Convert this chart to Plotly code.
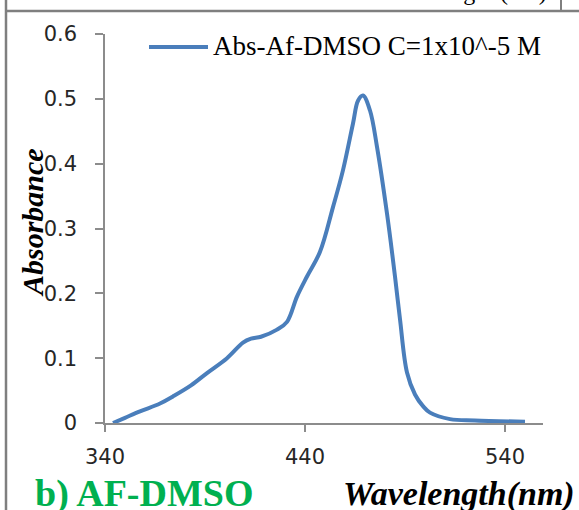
import plotly.graph_objects as go

# UV-Vis absorption spectrum of Af in DMSO (C = 1x10^-5 M)
wavelength_nm = [344, 350, 357.5, 367.5, 374, 383, 391, 401, 409, 413, 418, 426, 431,
                 436, 441, 447.5, 454, 459, 464, 466.5, 469, 472.5, 476, 481, 485,
                 487.5, 491, 495, 499, 502.5, 512.5, 525, 550]
absorbance = [0.0, 0.008, 0.018, 0.030, 0.041, 0.058, 0.077, 0.100, 0.124, 0.130, 0.133,
              0.144, 0.156, 0.195, 0.226, 0.264, 0.333, 0.390, 0.462, 0.497, 0.505,
              0.482, 0.426, 0.323, 0.226, 0.160, 0.078, 0.044, 0.026, 0.016, 0.006,
              0.004, 0.002]

x_ticks = [340, 440, 540]
y_ticks = [0, 0.1, 0.2, 0.3, 0.4, 0.5, 0.6]
series_name = "Abs-Af-DMSO C=1x10^-5 M"

W, H = 579, 510
M_L, M_R, M_T, M_B = 105, 36, 34, 87
PW, PH = W - M_L - M_R, H - M_T - M_B
LINE_COLOR = "#4A7EBB"
AXIS_COLOR = "#8C8C8C"


def px(x):
    return (x - M_L) / PW


def py(y):
    return (H - M_B - y) / PH


fig = go.Figure()
fig.add_trace(go.Scatter(
    x=wavelength_nm, y=absorbance, mode="lines", name=series_name,
    line=dict(color=LINE_COLOR, width=4, shape="spline", smoothing=1.0),
    showlegend=False,
))

axis_common = dict(
    showgrid=False, zeroline=False, showline=True, linecolor=AXIS_COLOR,
    linewidth=1.5, ticks="outside", tickcolor=AXIS_COLOR, tickwidth=1.5,
    tickfont=dict(family="DejaVu Sans", size=21, color="#262626"),
)

fig.update_layout(
    width=W, height=H,
    margin=dict(l=M_L, r=M_R, t=M_T, b=M_B, pad=0),
    paper_bgcolor="white", plot_bgcolor="white",
    xaxis=dict(range=[340, 559], tickvals=x_ticks, ticklen=7,
               ticklabelstandoff=7, **axis_common),
    yaxis=dict(range=[0, 0.6], tickvals=y_ticks,
               ticktext=[("%g" % v) for v in y_ticks], ticklen=8,
               ticklabelstandoff=14, **axis_common),
)

# Legend entry
fig.add_shape(type="line", xref="paper", yref="paper",
              x0=px(149), x1=px(208), y0=py(47), y1=py(47),
              line=dict(color=LINE_COLOR, width=4))
fig.add_annotation(xref="paper", yref="paper", x=px(211), y=py(46),
                   xanchor="left", yanchor="middle", showarrow=False,
                   text=series_name,
                   font=dict(family="Liberation Serif", size=27, color="black"))

# Axis titles
fig.add_annotation(xref="paper", yref="paper", x=px(32), y=py(223),
                   xanchor="center", yanchor="middle", showarrow=False,
                   textangle=-90, text="<b><i>Absorbance</i></b>",
                   font=dict(family="Liberation Serif", size=30, color="black"))
fig.add_annotation(xref="paper", yref="paper", x=px(577), y=py(494),
                   xanchor="right", yanchor="middle", showarrow=False,
                   text="<b><i>Wavelength(nm)</i></b>",
                   font=dict(family="Liberation Serif", size=34, color="black"))
fig.add_annotation(xref="paper", yref="paper", x=px(33), y=py(493),
                   xanchor="left", yanchor="middle", showarrow=False,
                   text="<b>b) AF-DMSO</b>",
                   font=dict(family="Liberation Serif", size=38, color="#00B050"))

# Frame of the surrounding table cell
FRAME = "#7F7F7F"
fig.add_shape(type="line", xref="paper", yref="paper",
              x0=px(6), x1=px(6), y0=py(0), y1=py(H), line=dict(color=FRAME, width=2.5))
fig.add_shape(type="line", xref="paper", yref="paper",
              x0=px(6), x1=px(W), y0=py(11), y1=py(11), line=dict(color=FRAME, width=2.5))
fig.add_shape(type="line", xref="paper", yref="paper",
              x0=px(561), x1=px(561), y0=py(0), y1=py(11), line=dict(color=FRAME, width=2))
# Clipped caption from the cell above
fig.add_annotation(xref="paper", yref="paper", x=px(549), y=py(7),
                   xanchor="right", yanchor="bottom", showarrow=False,
                   text="Wavelength (nm)",
                   font=dict(family="Liberation Serif", size=24, color="black"))

fig.write_html("out.html")
